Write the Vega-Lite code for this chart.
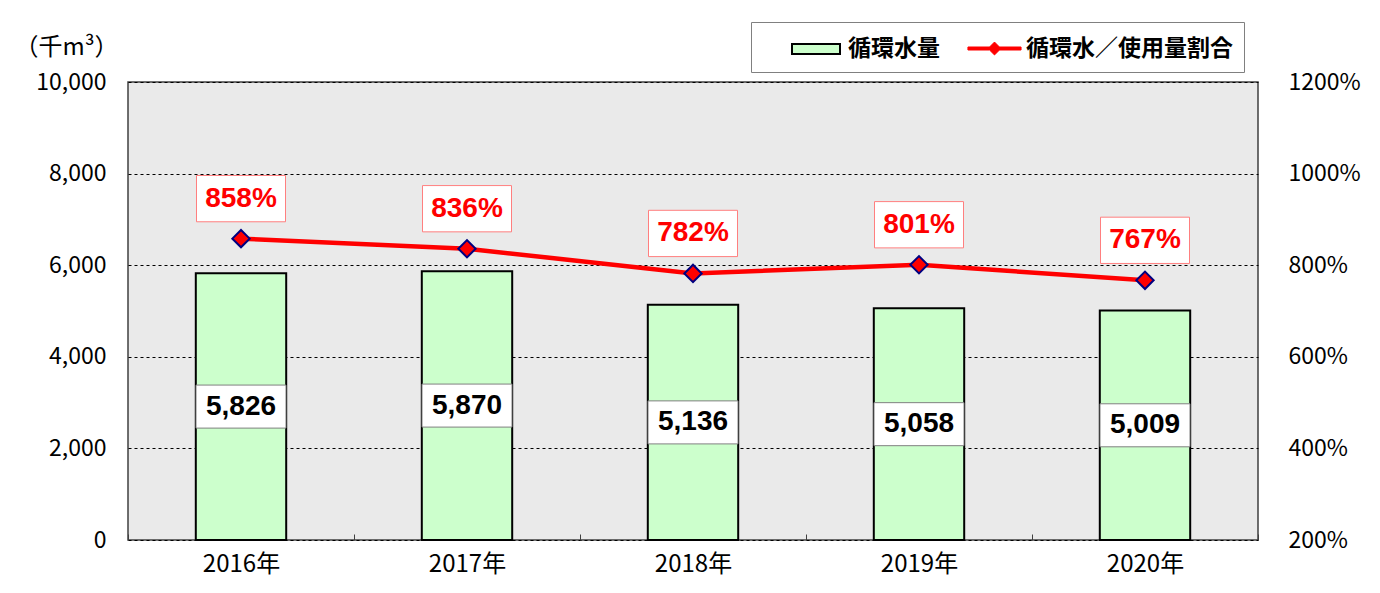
{
 "$schema": "https://vega.github.io/schema/vega-lite/v6.json",
 "width": 1130, "height": 458,
 "autosize": {"type": "none"},
 "padding": {"left": 128, "top": 82, "right": 122, "bottom": 53},
 "background": "white",
 "config": {"view": {"fill": "#eaeaea", "stroke": "#404040", "strokeWidth": 1.5}, "font": "Noto Sans CJK JP",
   "legend": {"orient": "none", "legendY": -60, "legendX": 623, "direction": "horizontal", "title": null,
            "symbolSize": 900, "labelFontSize": 23, "labelFontWeight": "bold", "labelColor": "black", "labelFont": "Noto Sans CJK JP", "labelLimit": 600,
            "padding": 11, "labelOffset": 16, "symbolOffset": 38}},
 "data": {"values": [
   {"year": "2016年", "v": 5826, "r": 8.58},
   {"year": "2017年", "v": 5870, "r": 8.36},
   {"year": "2018年", "v": 5136, "r": 7.82},
   {"year": "2019年", "v": 5058, "r": 8.01},
   {"year": "2020年", "v": 5009, "r": 7.67}
 ]},
 "encoding": {
   "x": {"field": "year", "type": "nominal", "scale": {"paddingInner": 0, "paddingOuter": 0},
     "axis": {"title": null, "labelAngle": 0, "labelFontSize": 24, "labelColor": "black", "labelPadding": 18, "domain": false, "ticks": true, "tickBand": "extent", "tickSize": -6, "tickColor": "#404040", "labelFont": "Noto Sans CJK JP"}}
 },
 "layer": [
   {"layer": [
     {"mark": {"type": "bar", "width": {"band": 0.4}, "stroke": "black", "strokeWidth": 2},
      "encoding": {
        "y": {"field": "v", "type": "quantitative", "scale": {"domain": [0, 10000]},
          "axis": {"orient": "left", "title": "（千m³）", "titleAngle": 0, "titleX": -62, "titleY": -35, "titleAlign": "center", "titleBaseline": "middle", "titleFontSize": 24, "titleFontWeight": "normal", "titleColor": "black", "titleFont": "Noto Sans CJK JP",
            "values": [0, 2000, 4000, 6000, 8000, 10000], "format": ",d", "labelFontSize": 23, "labelColor": "black", "labelPadding": 22, "ticks": false, "domain": false, "grid": true, "gridColor": "#000000", "gridDash": [3, 3], "gridWidth": 1}},
        "fill": {"datum": "循環水量", "type": "nominal",
          "scale": {"domain": ["循環水量"], "range": ["#ccffcc"]},
          "legend": {"symbolType": "M-1.6,-0.33H1.6V0.33H-1.6Z", "symbolStrokeColor": "black", "symbolStrokeWidth": 2, "zindex": 2}}
      }}
   ]},
   {"encoding": {"y": {"field": "r", "type": "quantitative", "scale": {"domain": [2, 12]},
      "axis": {"orient": "right", "title": null, "values": [2, 4, 6, 8, 10, 12], "format": ".0%", "labelFontSize": 23, "labelColor": "black", "labelPadding": 30, "ticks": false, "domain": false, "grid": false}}},
    "layer": [
     {"mark": {"type": "line", "strokeWidth": 4.5},
      "encoding": {"stroke": {"datum": "循環水／使用量割合", "type": "nominal",
          "scale": {"domain": ["循環水／使用量割合"], "range": ["#ff0000"]},
          "legend": {"symbolOffset": 217, "strokeColor": "#808080", "symbolType": "M-1.77,-0.1H-0.33L0,-0.43L0.33,-0.1H1.77V0.1H0.33L0,0.43L-0.33,0.1H-1.77Z",
            "symbolFillColor": "#ff0000", "symbolStrokeWidth": 1, "zindex": 1}}}},
     {"mark": {"type": "point", "shape": "diamond", "filled": true, "fill": "#ff0000", "stroke": "#000080", "strokeWidth": 2, "size": 300, "opacity": 1}, "encoding": {}},
     {"mark": {"type": "point", "shape": "M-1,-0.52H1V0.52H-1Z", "size": 7921, "filled": true, "fill": "white", "stroke": "#ff7f7f", "strokeWidth": 1, "opacity": 1, "yOffset": -40}, "encoding": {}},
     {"mark": {"type": "text", "fontSize": 28, "fontWeight": "bold", "color": "#ff0000", "font": "Liberation Sans", "yOffset": -40, "baseline": "middle"},
      "encoding": {"text": {"field": "r", "type": "quantitative", "format": ".0%"}}}
   ]},
   {"encoding": {"y": {"field": "v", "type": "quantitative", "scale": {"domain": [0, 20000]}, "axis": null}},
    "layer": [
     {"mark": {"type": "point", "shape": "M-1,-0.478H1V0.478H-1Z", "size": 8100, "filled": true, "fill": "white", "stroke": "#808080", "strokeWidth": 1, "opacity": 1}, "encoding": {}},
     {"mark": {"type": "text", "fontSize": 28, "fontWeight": "bold", "color": "black", "font": "Liberation Sans", "baseline": "middle"},
      "encoding": {"text": {"field": "v", "type": "quantitative", "format": ","}}}
   ]}
 ],
 "resolve": {"scale": {"y": "independent"}}
}
